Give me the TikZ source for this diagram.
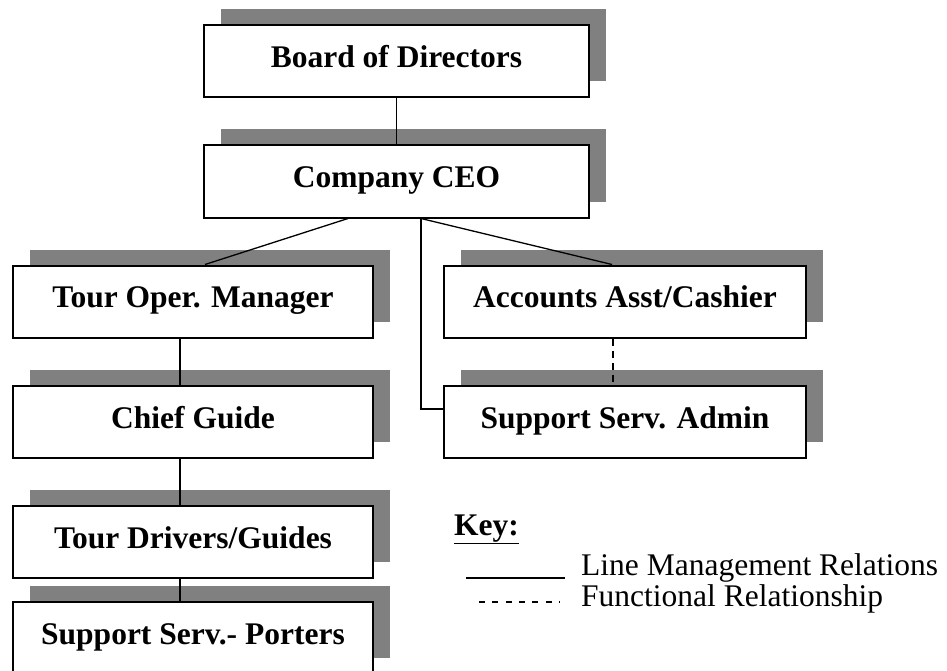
\documentclass[tikz,border=0pt]{standalone}
\usepackage{fontspec}
\setmainfont{Liberation Serif}
\usetikzlibrary{shadows,calc}
\definecolor{shadegray}{HTML}{808080}
\begin{document}
\begin{tikzpicture}[x=1pt,y=-1pt,
  orgbox/.style={draw=black, line width=2pt, fill=white, inner sep=0pt,
    minimum height=72pt, text height=22pt, text depth=10pt,
    font=\fontsize{31.5}{36}\selectfont\bfseries,
    general shadow={shadow xshift=16.5pt, shadow yshift=16pt, fill=shadegray}},
  linerel/.style={draw=black, line width=1.3pt},
  funcrel/.style={draw=black, line width=1.3pt, dash pattern=on 7pt off 5pt},
  keytext/.style={anchor=base west, inner sep=0pt, font=\fontsize{31.5}{36}\selectfont}]
\useasboundingbox (0,0) rectangle (947,671);
\clip (0,0) rectangle (947,671);

% organisation boxes
\node[orgbox, minimum width=385pt] (board)   at (396.5,61.5)  {Board of Directors};
\node[orgbox, minimum width=385pt] (ceo)     at (396.5,181.5) {Company CEO};
\node[orgbox, minimum width=360pt] (tour)    at (193,301.5)   {Tour Oper. Manager};
\node[orgbox, minimum width=362pt] (acct)    at (625,301.5)   {Accounts Asst/Cashier};
\node[orgbox, minimum width=360pt] (chief)   at (193,422)     {Chief Guide};
\node[orgbox, minimum width=362pt] (admin)   at (625,422)     {Support Serv. Admin};
\node[orgbox, minimum width=360pt] (drivers) at (193,542)     {Tour Drivers/Guides};
\node[orgbox, minimum width=360pt] (porters) at (193,638)     {Support Serv.- Porters};

% line management relations
\draw[linerel] (board.south) -- (ceo.north);
\draw[linerel] ([xshift=-48.5pt]ceo.south) -- ([xshift=12pt]tour.north);
\draw[linerel] ([xshift=24.5pt]ceo.south) -- ([xshift=-13pt]acct.north);
\draw[linerel] ([xshift=24.5pt]ceo.south) |- ([yshift=13pt]admin.west);
\draw[linerel] ([xshift=-13pt]tour.south) -- ([xshift=-13pt]chief.north);
\draw[linerel] ([xshift=-13pt]chief.south) -- ([xshift=-13pt]drivers.north);
\draw[linerel] ([xshift=-13pt]drivers.south) -- ([xshift=-13pt]porters.north);

% functional relationship
\draw[funcrel] ([xshift=-12pt]acct.south) -- ([xshift=-12pt]admin.north);

% key
\node[keytext, font=\fontsize{31.5}{36}\selectfont\bfseries] (key) at (454,535) {\underline{Key:}};
\coordinate (solidA) at (466,578);
\coordinate (solidB) at (565,578);
\draw[line width=2.2pt] (solidA) -- (solidB);
\coordinate (dashA) at (479,602);
\coordinate (dashB) at (560,602);
\draw[line width=1.3pt, dash pattern=on 6pt off 7.3pt] (dashA) -- (dashB);
\node[keytext] (lmr) at (581,575) {Line Management Relations};
\node[keytext] (fr)  at (581,606) {Functional Relationship};
\end{tikzpicture}
\end{document}
